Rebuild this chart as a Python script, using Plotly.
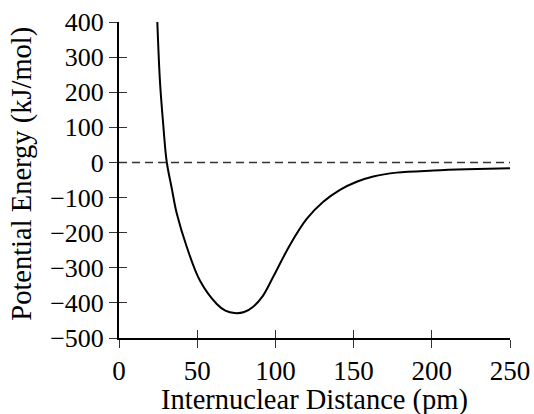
import plotly.graph_objects as go

# Hodnoty (vzdálenost v pm, energie v kJ/mol)
distance = [24.5, 26.2, 28.3, 30.5, 33.7, 36.9, 43.3, 51.8, 62.5, 68, 74, 80,
            86, 92, 98.7, 109.3, 120, 130.6, 141.3, 152, 162.6, 177.5, 201, 222, 250]
energy = [400, 230, 107, 2, -73, -145, -240, -337, -403, -422, -429, -426,
          -410, -380, -325, -235, -161, -112, -78, -55, -40, -29, -23, -19.5, -16.5]

zero_x = [0, 250]
zero_y = [0, 0]

x_ticks = [0, 50, 100, 150, 200, 250]
y_ticks = [400, 300, 200, 100, 0, -100, -200, -300, -400, -500]

FONT = "Liberation Serif, Times New Roman, serif"
X_RANGE = [0, 250]
Y_RANGE = [-500, 400]

fig = go.Figure()

# Přerušovaná nulová čára (na pomocných osách, které kreslí vnitřní tiky)
fig.add_trace(go.Scatter(
    x=zero_x, y=zero_y, mode="lines", xaxis="x2", yaxis="y2",
    line=dict(color="#333333", width=1.5, dash="8px,5px"),
    hoverinfo="skip", showlegend=False,
))

# Křivka potenciální energie
fig.add_trace(go.Scatter(
    x=distance, y=energy, mode="lines",
    line=dict(color="black", width=2, shape="spline", smoothing=1.0),
    showlegend=False,
))

inner = dict(
    showticklabels=False, showgrid=False, zeroline=False, showline=False,
    ticks="inside", ticklen=8, tickwidth=1, tickcolor="#333333", automargin=False,
)

fig.update_layout(
    template="none",
    width=534,
    height=414,
    margin=dict(l=119, r=24, t=22, b=76),
    plot_bgcolor="white",
    paper_bgcolor="white",
    font=dict(family=FONT, color="black"),
    xaxis=dict(
        range=X_RANGE, tickvals=x_ticks, tickfont=dict(family=FONT, size=27),
        showline=True, linewidth=2, linecolor="black",
        showgrid=False, zeroline=False, automargin=False,
        ticks="outside", ticklen=8, tickwidth=1, tickcolor="#333333",
    ),
    yaxis=dict(
        range=Y_RANGE, tickvals=y_ticks, tickfont=dict(family=FONT, size=26),
        showline=True, linewidth=2, linecolor="black",
        showgrid=False, zeroline=False, automargin=False,
        ticks="outside", ticklen=8, tickwidth=1, tickcolor="#333333",
    ),
    xaxis2=dict(range=X_RANGE, tickvals=x_ticks, overlaying="x", anchor="y2",
                side="bottom", **inner),
    yaxis2=dict(range=Y_RANGE, tickvals=y_ticks, overlaying="y", anchor="x2",
                side="left", **inner),
    annotations=[
        dict(text="Internuclear Distance (pm)", xref="paper", yref="paper",
             x=0.5, y=-0.196, xanchor="center", yanchor="middle",
             showarrow=False, font=dict(family=FONT, size=28.5)),
        dict(text="Potential Energy (kJ/mol)", xref="paper", yref="paper",
             x=-0.248, y=0.52, xanchor="center", yanchor="middle",
             textangle=-90, showarrow=False, font=dict(family=FONT, size=28.5)),
    ],
)

# bez výchozího okraje stránky, aby graf seděl přesně do okna
fig.write_html("out.html", config={"displayModeBar": False},
               post_script="document.body.style.margin = '0';")
